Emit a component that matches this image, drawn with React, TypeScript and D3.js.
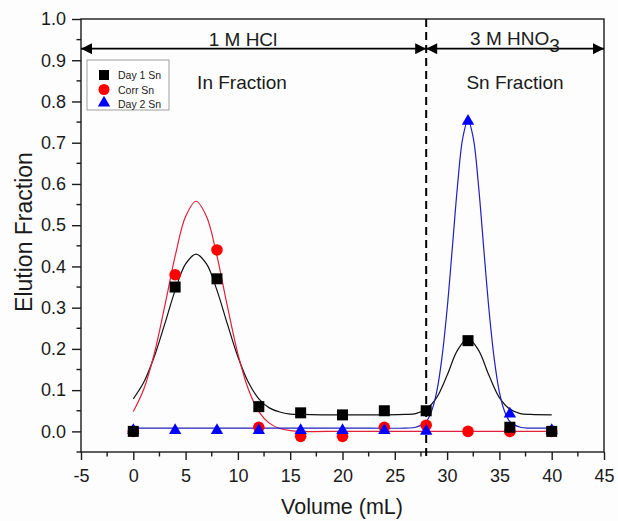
import React, { useRef, useEffect } from "react";
import * as d3 from "d3";

// measured points
const volumes = [0, 4, 8, 12, 16, 20, 24, 28, 32, 36, 40];
const day1Sn = [0.0, 0.35, 0.37, 0.06, 0.045, 0.04, 0.05, 0.05, 0.22, 0.01, 0.0];
const corrSn = [0.0, 0.38, 0.44, 0.01, -0.012, -0.012, 0.01, 0.015, 0.0, 0.0, 0.0];
const day2Sn = [0.0, 0.0, 0.0, 0.0, 0.0, 0.0, 0.0, -0.002, 0.75, 0.04, 0.0];

// fitted curves
const day1FitX = [0, 1, 2, 3, 4, 5, 6, 7, 8, 9, 10, 11, 12, 13, 14, 15, 16, 18, 20, 22, 24, 26, 27, 28, 29, 30, 31, 32, 33, 34, 35, 36, 37, 38, 40];
const day1FitY = [0.079, 0.119, 0.181, 0.26, 0.342, 0.406, 0.43, 0.406, 0.342, 0.26, 0.181, 0.119, 0.079, 0.057, 0.047, 0.042, 0.041, 0.04, 0.04, 0.04, 0.04, 0.041, 0.043, 0.054, 0.082, 0.136, 0.197, 0.225, 0.197, 0.136, 0.082, 0.054, 0.043, 0.041, 0.04];
const corrFitX = [0, 1, 2, 3, 4, 5, 6, 7, 8, 9, 10, 11, 12, 13, 14, 15, 16, 20, 24, 28, 32, 36, 40];
const corrFitY = [0.048, 0.102, 0.188, 0.303, 0.425, 0.521, 0.558, 0.521, 0.425, 0.303, 0.188, 0.102, 0.048, 0.02, 0.007, 0.002, 0.0, 0.0, 0.0, 0.0, 0.0, 0.0, 0.0];
const day2FitX = [0, 10, 20, 26, 27, 28, 28.5, 29, 29.5, 30, 30.5, 31, 31.5, 32, 32.5, 33, 33.5, 34, 34.5, 35, 35.5, 36, 37, 38, 40];
const day2FitY = [0.008, 0.008, 0.008, 0.008, 0.01, 0.024, 0.048, 0.095, 0.177, 0.296, 0.445, 0.597, 0.712, 0.755, 0.712, 0.597, 0.445, 0.296, 0.177, 0.095, 0.048, 0.024, 0.01, 0.008, 0.008];

const xTicks = [-5, 0, 5, 10, 15, 20, 25, 30, 35, 40, 45];
const yTicks = [0, 0.1, 0.2, 0.3, 0.4, 0.5, 0.6, 0.7, 0.8, 0.9, 1.0];
const legendLabels = ["Day 1 Sn", "Corr Sn", "Day 2 Sn"];

const switchVolume = 28;
const arrowLevel = 0.928;

const App = () => {
  const svgRef = useRef<SVGSVGElement>(null);
  const width = 618;
  const height = 521;

  useEffect(() => {
    const svg = d3.select(svgRef.current);
    svg.selectAll("*").remove();

    const x = d3.scaleLinear().domain([-5, 45]).range([81, 604]);
    const y = d3.scaleLinear().domain([-0.05, 1.0]).range([452, 19]);
    const font = "Liberation Sans, Arial, sans-serif";
    const ink = "#1a1a1a";

    svg.append("rect").attr("width", width).attr("height", height).attr("fill", "#fdfdfd");

    const defs = svg.append("defs");
    defs
      .append("marker")
      .attr("id", "ah")
      .attr("viewBox", "0 0 10 10")
      .attr("refX", 10)
      .attr("refY", 5)
      .attr("markerWidth", 15)
      .attr("markerHeight", 11)
      .attr("markerUnits", "userSpaceOnUse")
      .attr("orient", "auto-start-reverse")
      .append("path")
      .attr("d", "M0,0 L10,5 L0,10 Z")
      .attr("fill", "#000");

    // frame
    svg
      .append("rect")
      .attr("x", x(-5))
      .attr("y", y(1))
      .attr("width", x(45) - x(-5))
      .attr("height", y(-0.05) - y(1))
      .attr("fill", "none")
      .attr("stroke", ink)
      .attr("stroke-width", 1.4);

    // axes
    const xAxis = d3
      .axisBottom(x)
      .tickValues(xTicks)
      .tickSize(8)
      .tickPadding(9)
      .tickFormat((d) => String(d));
    const gx = svg.append("g").attr("transform", `translate(0,${y(-0.05)})`).call(xAxis);
    const yAxis = d3.axisLeft(y).tickValues(yTicks).tickSize(9).tickPadding(6).tickFormat(d3.format(".1f"));
    const gy = svg.append("g").attr("transform", `translate(${x(-5)},0)`).call(yAxis);
    [gx, gy].forEach((g) => {
      g.select(".domain").remove();
      g.selectAll("line").attr("stroke", ink).attr("stroke-width", 1.4);
      g.selectAll("text").attr("font-family", font).attr("font-size", 18).attr("fill", ink);
    });

    // minor ticks
    const xMinor = d3.range(-2.5, 45, 5);
    svg
      .append("g")
      .selectAll("line")
      .data(xMinor)
      .join("line")
      .attr("x1", (d) => x(d))
      .attr("x2", (d) => x(d))
      .attr("y1", y(-0.05))
      .attr("y2", y(-0.05) + 4.5)
      .attr("stroke", ink)
      .attr("stroke-width", 1.4);
    const yMinor = d3.range(-0.05, 1.0, 0.1);
    svg
      .append("g")
      .selectAll("line")
      .data(yMinor)
      .join("line")
      .attr("x1", x(-5))
      .attr("x2", x(-5) - 4.5)
      .attr("y1", (d) => y(d))
      .attr("y2", (d) => y(d))
      .attr("stroke", ink)
      .attr("stroke-width", 1.4);

    // axis titles
    svg
      .append("text")
      .attr("x", 342)
      .attr("y", 514)
      .attr("text-anchor", "middle")
      .attr("font-family", font)
      .attr("font-size", 21.5)
      .attr("fill", ink)
      .text("Volume (mL)");
    svg
      .append("text")
      .attr("transform", `translate(32,${232}) rotate(-90)`)
      .attr("text-anchor", "middle")
      .attr("font-family", font)
      .attr("font-size", 23)
      .attr("fill", ink)
      .text("Elution Fraction");

    // dashed divider
    svg
      .append("line")
      .attr("x1", x(switchVolume))
      .attr("x2", x(switchVolume))
      .attr("y1", y(1))
      .attr("y2", y(-0.05) + 5)
      .attr("stroke", "#000")
      .attr("stroke-width", 2)
      .attr("stroke-dasharray", "8,5");

    // arrows
    const arrows = [
      [-5, switchVolume],
      [switchVolume, 45],
    ];
    svg
      .append("g")
      .selectAll("line")
      .data(arrows)
      .join("line")
      .attr("x1", (d) => x(d[0]))
      .attr("x2", (d) => x(d[1]))
      .attr("y1", y(arrowLevel))
      .attr("y2", y(arrowLevel))
      .attr("stroke", "#000")
      .attr("stroke-width", 1.7)
      .attr("marker-start", "url(#ah)")
      .attr("marker-end", "url(#ah)");

    svg
      .append("text")
      .attr("x", 243)
      .attr("y", 46)
      .attr("text-anchor", "middle")
      .attr("font-family", font)
      .attr("font-size", 19)
      .attr("fill", ink)
      .text("1 M HCl");
    const hno = svg
      .append("text")
      .attr("x", 515)
      .attr("y", 45)
      .attr("text-anchor", "middle")
      .attr("font-family", font)
      .attr("font-size", 19)
      .attr("fill", ink);
    hno.append("tspan").text("3 M HNO");
    hno.append("tspan").attr("dy", 7).text("3");

    svg
      .append("text")
      .attr("x", 242)
      .attr("y", 89)
      .attr("text-anchor", "middle")
      .attr("font-family", font)
      .attr("font-size", 19)
      .attr("fill", ink)
      .text("In Fraction");
    svg
      .append("text")
      .attr("x", 515)
      .attr("y", 89)
      .attr("text-anchor", "middle")
      .attr("font-family", font)
      .attr("font-size", 19)
      .attr("fill", ink)
      .text("Sn Fraction");

    // fit curves
    const line = d3
      .line<[number, number]>()
      .x((d) => x(d[0]))
      .y((d) => y(d[1]))
      .curve(d3.curveCatmullRom);
    const fits: [number[], number[], string][] = [
      [day1FitX, day1FitY, "#111"],
      [corrFitX, corrFitY, "#e0203a"],
      [day2FitX, day2FitY, "#2020c0"],
    ];
    fits.forEach(([xs, ys, c]) => {
      svg
        .append("path")
        .attr("d", line(xs.map((v, i) => [v, ys[i]] as [number, number])))
        .attr("fill", "none")
        .attr("stroke", c)
        .attr("stroke-width", 1.2);
    });

    // markers: circles, then triangles, then squares on top
    svg
      .append("g")
      .selectAll("circle")
      .data(volumes)
      .join("circle")
      .attr("cx", (d) => x(d))
      .attr("cy", (d, i) => y(corrSn[i]))
      .attr("r", 5.8)
      .attr("fill", "#ff0000");
    const tri = d3.symbol().type(d3.symbolTriangle).size(66);
    svg
      .append("g")
      .selectAll("path")
      .data(volumes)
      .join("path")
      .attr("d", tri)
      .attr("transform", (d, i) => `translate(${x(d)},${y(day2Sn[i]) - 1})`)
      .attr("fill", "#0000ff");
    svg
      .append("g")
      .selectAll("rect")
      .data(volumes)
      .join("rect")
      .attr("x", (d) => x(d) - 5.5)
      .attr("y", (d, i) => y(day1Sn[i]) - 5.5)
      .attr("width", 11)
      .attr("height", 11)
      .attr("fill", "#000");

    // legend
    const lg = svg.append("g").attr("transform", "translate(87,60)");
    lg.append("rect")
      .attr("width", 82)
      .attr("height", 50)
      .attr("fill", "#fff")
      .attr("stroke", "#888")
      .attr("stroke-width", 0.8);
    const rowY = (i: number) => 15 + i * 14.5;
    lg.append("rect").attr("x", 12).attr("y", rowY(0) - 5).attr("width", 10).attr("height", 10).attr("fill", "#000");
    lg.append("circle").attr("cx", 17).attr("cy", rowY(1)).attr("r", 5.5).attr("fill", "#ff0000");
    lg.append("path").attr("d", tri).attr("transform", `translate(17,${rowY(2) - 1})`).attr("fill", "#0000ff");
    lg.selectAll("text.lab")
      .data(legendLabels)
      .join("text")
      .attr("class", "lab")
      .attr("x", 31)
      .attr("y", (d, i) => rowY(i) + 4)
      .attr("font-family", font)
      .attr("font-size", 10.5)
      .attr("fill", ink)
      .text((d) => d);
  }, []);

  return (
    <svg
      ref={svgRef}
      width={width}
      height={height}
      style={{ position: "absolute", left: 0, top: 0, display: "block" }}
    />
  );
};

export default App;
